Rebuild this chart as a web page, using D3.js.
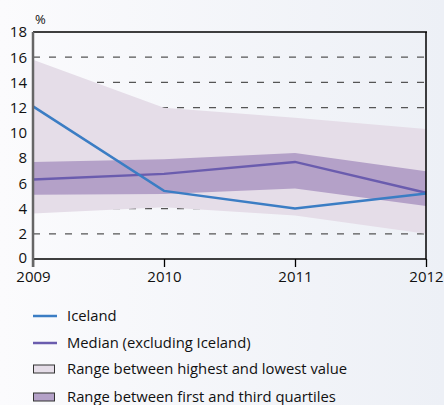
<!DOCTYPE html>
<html><head><meta charset="utf-8">
<script src="https://cdn.jsdelivr.net/npm/d3@7"></script>
<style>body{margin:0;}svg{display:block;font-family:"Open Sans",sans-serif;}</style>
</head><body><svg id="c" width="444" height="405"></svg>
<script>
const years = [2009, 2010, 2011, 2012];
const iceland = [12.1, 5.4, 4.0, 5.2];
const median = [6.3, 6.75, 7.7, 5.25];
const q1 = [5.1, 5.15, 5.6, 4.2];
const q3 = [7.7, 7.9, 8.4, 6.95];
const minV = [3.6, 4.1, 3.45, 2.0];
const maxV = [15.8, 12.0, 11.2, 10.3];
const yTicks = [0, 2, 4, 6, 8, 10, 12, 14, 16, 18];
const legendItems = ["Iceland", "Median (excluding Iceland)", "Range between highest and lowest value", "Range between first and third quartiles"];

const svg = d3.select("#c");
const defs = svg.append("defs");
const g1 = defs.append("linearGradient").attr("id","bg").attr("x1","0").attr("x2","1").attr("y1","0").attr("y2","0");
g1.append("stop").attr("offset","0").attr("stop-color","#fbfbfd");
g1.append("stop").attr("offset","1").attr("stop-color","#edf0f6");
svg.append("rect").attr("width",444).attr("height",405).attr("fill","url(#bg)");

const x = d3.scalePoint().domain(years).range([33, 426]);
const y = d3.scaleLinear().domain([0, 18]).range([259, 32]);

// grid
svg.append("g").selectAll("line").data(yTicks.filter(d => d > 0 && d < 18)).join("line")
  .attr("x1", 33).attr("x2", 426).attr("y1", d => y(d)).attr("y2", d => y(d))
  .attr("stroke", "#555").attr("stroke-width", 1.3).attr("stroke-dasharray", "7,9");

const idx = d3.range(years.length);
const area = (lo, hi) => d3.area().x(i => x(years[i])).y0(i => y(lo[i])).y1(i => y(hi[i]));
svg.append("path").datum(idx).attr("d", area(minV, maxV)).attr("fill", "#e5dde8");
svg.append("path").datum(idx).attr("d", area(q1, q3)).attr("fill", "#b4a1c8");

const line = arr => d3.line().x(i => x(years[i])).y(i => y(arr[i]));
svg.append("path").datum(idx).attr("d", line(median)).attr("fill","none").attr("stroke","#6a5cae").attr("stroke-width",2.5);
svg.append("path").datum(idx).attr("d", line(iceland)).attr("fill","none").attr("stroke","#3b7dc4").attr("stroke-width",2.5);

// frame
svg.append("line").attr("x1",33).attr("x2",427).attr("y1",y(18)).attr("y2",y(18)).attr("stroke","#000").attr("stroke-width",1.5);
svg.append("line").attr("x1",426).attr("x2",426).attr("y1",y(18)).attr("y2",y(0)).attr("stroke","#000").attr("stroke-width",1.5);

// x axis
const xa = svg.append("g").attr("transform",`translate(0,${y(0)})`)
  .call(d3.axisBottom(x).tickSize(8).tickPadding(4).tickFormat(d3.format("d")));
xa.select(".domain").attr("stroke","#000").attr("stroke-width",1.5).attr("d","M33,0H426");
xa.selectAll(".tick line").attr("stroke","#000").attr("stroke-width",1.3);
xa.selectAll("text").attr("font-size",15).attr("fill","#111").attr("font-family","Open Sans, sans-serif");

// y axis
const ya = svg.append("g").attr("transform","translate(33,0)")
  .call(d3.axisLeft(y).tickValues(yTicks).tickSize(0).tickPadding(6));
ya.select(".domain").attr("stroke","#666").attr("stroke-width",2.5).attr("d",`M0,${y(18)}V${y(0)+8}`);
ya.selectAll("text").attr("font-size",15).attr("fill","#111").attr("font-family","Open Sans, sans-serif");
ya.selectAll(".tick").filter(d => d === 0).select("text").attr("dy","0.2em");

svg.append("text").attr("x",35).attr("y",24).attr("font-size",13).attr("fill","#111").text("%");

// legend
const lg = svg.append("g");
const ly = [316, 343, 369, 397];
legendItems.forEach((t, i) => {
  if (i < 2) {
    lg.append("line").attr("x1",33).attr("x2",57).attr("y1",ly[i]).attr("y2",ly[i])
      .attr("stroke", i === 0 ? "#3b7dc4" : "#6a5cae").attr("stroke-width",2.5);
  } else {
    lg.append("rect").attr("x",33.5).attr("y",ly[i]-4).attr("width",21).attr("height",8)
      .attr("fill", i === 2 ? "#e5dde8" : "#b4a1c8").attr("stroke","#333").attr("stroke-width",1);
  }
  lg.append("text").attr("x",67).attr("y",ly[i]+5).attr("font-size",14.8).attr("fill","#111").text(t);
});
</script></body></html>
